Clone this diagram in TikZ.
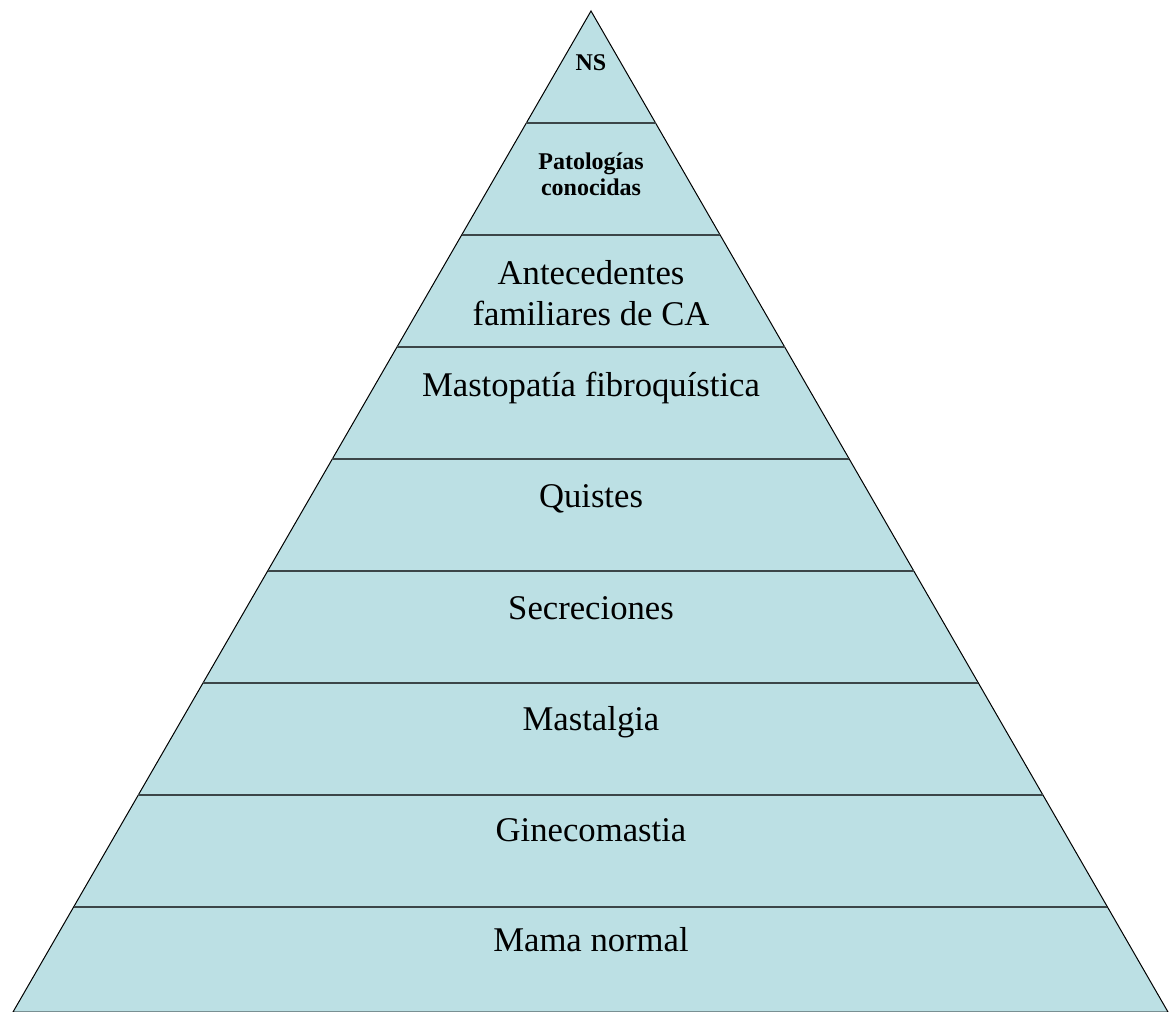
\documentclass[tikz,border=0pt]{standalone}
\usepackage{fontspec}
\setmainfont{Liberation Serif}
\usetikzlibrary{calc}

\definecolor{pyrfill}{RGB}{188,224,228}
\definecolor{bandline}{RGB}{60,70,72}

\tikzset{
  level/.style={anchor=base, align=center, inner sep=0pt, font=\fontsize{26}{31}\selectfont},
  toplevel/.style={anchor=base, align=center, inner sep=0pt, font=\bfseries\fontsize{18}{20}\selectfont},
}

\begin{document}
\begin{tikzpicture}[x=0.75pt,y=-0.75pt]
            \useasboundingbox (0,0) rectangle (1170,1012);
            % Corners of the pyramid
            \coordinate (apex) at (591,11);
            \coordinate (bl) at (13,1012);
            \coordinate (br) at (1168,1012);
            % Pyramid body
            \filldraw[fill=pyrfill, draw=black, line width=0.75pt] (apex) -- (br) -- (bl) -- cycle;
            % Band separators
            \foreach \k in {1,...,8}
                {
                    \draw[bandline, line width=1.8pt] ($(apex)!{112*\k/1001}!(bl)$) -- ($(apex)!{112*\k/1001}!(br)$);
                }
            % Labels (base of a two-line node is its last line)
            \node[toplevel] (ns) at (591,71) {NS};
            \node[toplevel] (patol) at (591,196) {Patologías\\conocidas};
            \node[level] (antec) at (591,326) {Antecedentes\\familiares de CA};
            \node[level] (masto) at (591,397) {Mastopatía fibroquística};
            \node[level] (quist) at (591,507) {Quistes};
            \node[level] (secre) at (591,619) {Secreciones};
            \node[level] (mastal) at (591,730) {Mastalgia};
            \node[level] (gine) at (591,841) {Ginecomastia};
            \node[level] (mama) at (591,951) {Mama normal};

        \end{tikzpicture}
\end{document}
